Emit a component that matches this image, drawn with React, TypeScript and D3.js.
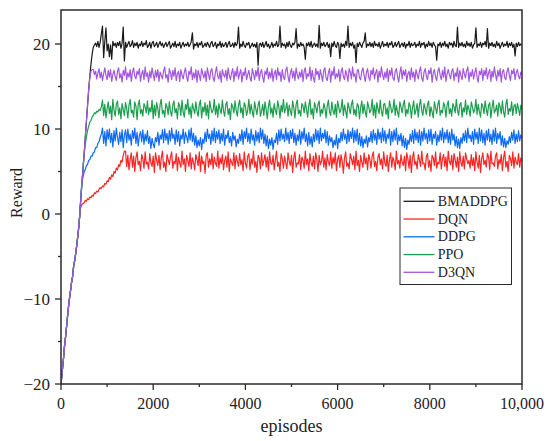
import * as d3 from "d3"

// episodes sampled every 25 (0..10000)
const episodes = d3.range(0, 10001, 25)

// shared warm-up ramp, episodes 0..400
const sharedRamp = [
  -20, -18.6, -17.3, -15.6, -14.4, -13.0, -11.6, -10.3, -9.3, -8.2, -7.4, -6.1, -5.4, -4.4, -3.3, -2.1, -0.6,
]

// values from episode 425 on
const bmaddpgRest = [
  1.4, 3.3, 5.1, 6.9, 8.9, 10.8, 12.7, 14.6, 16.2, 17.6, 18.8, 19.6, 19.9,
  20.1, 19.7, 20.3, 19.6, 20.2, 21.2, 22.1, 18.4, 20.3, 21.9, 19.2, 20.0, 18.5, 19.9, 18.2, 20.3, 19.8, 20.1, 19.6, 20.2,
  19.8, 20.3, 19.5, 20.1, 22.0, 18.0, 20.2, 19.6, 20.0, 20.3, 19.7, 19.9, 20.4, 19.6, 20.1, 19.8, 20.2, 19.5, 20.0, 19.8,
  20.3, 19.7, 20.1, 19.9, 20.4, 19.6, 19.8, 20.2, 19.5, 20.1, 20.3, 19.7, 19.9, 20.2, 19.6, 20.0, 20.3, 19.8, 20.1, 19.6,
  19.9, 20.2, 19.7, 20.0, 20.3, 19.5, 19.8, 20.1, 19.7, 20.3, 19.6, 20.0, 19.8, 20.2, 19.5, 19.9, 20.2, 19.7, 20.0, 19.8,
  20.2, 19.7, 19.9, 20.3, 21.3, 19.4, 20.0, 19.8, 20.2, 19.6, 20.1, 19.9, 20.3, 19.6, 19.8, 20.1, 19.7, 20.2, 19.9, 19.6,
  20.1, 20.3, 19.7, 19.9, 20.2, 19.5, 20.0, 19.8, 20.3, 19.6, 20.1, 19.7, 19.9, 20.2, 19.6, 20.0, 20.3, 19.7, 19.8, 20.1,
  19.6, 20.2, 19.8, 20.1, 22.0, 19.5, 20.0, 19.7, 20.3, 19.8, 19.6, 20.1, 19.9, 20.2, 19.5, 19.8, 20.1, 19.7, 20.0, 19.6,
  20.2, 17.5, 19.9, 20.1, 19.7, 20.2, 19.6, 19.9, 20.3, 19.7, 20.0, 19.5, 19.8, 20.2, 19.6, 20.0, 19.8, 20.3, 19.7, 19.9,
  22.1, 19.6, 20.1, 19.8, 20.0, 19.5, 20.2, 19.7, 20.3, 19.8, 19.6, 20.1, 19.9, 20.2, 21.8, 19.5, 20.0, 19.7, 20.2, 19.8,
  20.0, 19.6, 18.2, 20.1, 19.8, 20.2, 19.7, 20.3, 19.6, 19.9, 20.1, 19.7, 20.0, 19.6, 22.2, 19.5, 20.1, 19.8, 20.2, 19.7,
  19.9, 20.2, 19.6, 20.0, 18.5, 20.1, 19.7, 20.3, 19.8, 19.6, 20.2, 19.9, 18.3, 20.1, 19.7, 20.0, 19.6, 20.3, 19.8, 22.1,
  19.6, 20.1, 19.8, 20.2, 19.5, 19.9, 17.8, 20.1, 19.7, 20.2, 19.9, 19.6, 20.1, 20.3, 21.3, 19.6, 20.0, 19.8, 20.2, 19.7,
  20.1, 19.6, 20.3, 19.8, 20.0, 19.7, 20.2, 19.5, 19.9, 20.3, 19.7, 20.0, 19.8, 20.2, 19.6, 20.1, 19.9, 20.3, 19.6, 19.8,
  20.2, 19.7, 20.0, 20.3, 19.6, 19.9, 20.1, 19.7, 20.2, 19.5, 20.0, 19.8, 20.3, 19.6, 20.1, 19.8, 19.9, 20.2, 19.6, 20.0,
  19.8, 20.3, 19.6, 20.1, 19.9, 20.2, 19.5, 20.0, 19.7, 20.3, 19.8, 20.1, 19.6, 20.2, 19.9, 19.7, 18.1, 20.0, 19.8, 20.2,
  19.6, 20.1, 19.8, 20.3, 19.7, 20.0, 19.5, 20.2, 19.9, 20.1, 19.6, 20.3, 19.8, 19.7, 22.0, 19.6, 20.1, 19.8, 20.2, 19.7,
  20.0, 19.6, 20.3, 19.8, 20.1, 19.7, 20.2, 19.5, 19.9, 20.1, 21.9, 19.6, 20.0, 19.8, 20.2, 19.6, 20.1, 19.9, 20.3, 19.7,
  21.8, 19.5, 20.1, 19.8, 20.2, 19.7, 20.0, 19.6, 20.3, 19.8, 20.1, 19.5, 19.9, 20.2, 19.7, 20.0, 19.8, 20.3, 19.6, 20.1,
  19.8, 20.2, 19.6, 20.0, 18.6, 20.1, 19.7, 20.2, 19.8, 20.0, 19.9,
]

const dqnRest = [
  0.7, 1.1, 1.2, 1.3, 1.6, 1.5, 1.8, 1.7, 2.0, 1.9, 2.2, 2.1, 2.5, 2.4, 2.7, 2.6, 2.9, 3.1, 3.0, 3.3,
  3.2, 3.6, 3.5, 3.9, 3.8, 4.3, 4.1, 4.6, 4.4, 5.0, 4.8, 5.4, 5.2, 5.8, 5.6, 6.3, 6.1, 6.9, 7.4,
  7.4, 5.6, 6.9, 5.2, 6.4, 7.2, 5.5, 6.8, 5.0, 6.6, 7.3, 5.8, 6.2, 5.1, 7.0, 6.5, 5.4, 7.3, 5.9, 6.1,
  5.3, 7.1, 6.0, 5.6, 6.8, 4.9, 7.2, 6.3, 5.7, 6.9, 5.2, 6.6, 7.4, 5.5, 6.1, 5.0, 7.0, 6.4, 5.8, 6.7,
  7.3, 5.4, 6.2, 5.9, 7.1, 5.1, 6.7, 6.0, 5.5, 7.4, 5.8, 6.5, 5.0, 6.9, 6.3, 5.6, 7.2, 5.3, 6.6, 6.1,
  5.2, 7.0, 6.4, 5.7, 7.3, 5.0, 6.8, 5.9, 6.2, 4.8, 6.9, 7.2, 5.5, 6.5, 5.8, 7.1, 5.3, 6.7, 6.0, 5.6,
  7.4, 5.4, 6.6, 5.9, 7.0, 5.2, 6.3, 6.8, 5.5, 7.3, 5.0, 6.5, 6.1, 5.7, 7.2, 5.3, 6.9, 6.2, 5.6, 7.1,
  5.8, 6.4, 5.1, 7.3, 6.0, 5.4, 6.8, 7.1, 5.2, 6.5, 5.9, 7.4, 5.5, 6.2, 4.9, 6.9, 6.6, 5.3, 7.2, 5.7,
  6.3, 7.0, 5.5, 6.7, 5.1, 7.3, 6.0, 5.8, 6.9, 5.2, 6.4, 7.4, 5.6, 6.1, 5.0, 7.1, 6.5, 5.4, 6.8, 6.0,
  5.3, 7.2, 6.2, 5.7, 6.9, 4.9, 6.6, 7.3, 5.5, 6.0, 5.9, 7.0, 5.2, 6.7, 6.3, 5.4, 7.4, 5.8, 6.5, 5.1,
  7.1, 6.0, 5.6, 6.8, 5.3, 7.2, 6.4, 5.0, 6.9, 5.8, 6.2, 7.4, 5.5, 6.6, 5.2, 7.0, 6.1, 5.7, 7.3, 5.4,
  6.7, 5.9, 7.2, 5.1, 6.4, 6.9, 5.5, 7.0, 6.2, 4.8, 6.6, 7.3, 5.6, 6.0, 5.3, 7.1, 6.5, 5.8, 6.8, 5.2,
  7.4, 5.7, 6.3, 5.0, 6.9, 6.1, 5.5, 7.2, 5.9, 6.6, 5.2, 7.0, 6.4, 5.4, 6.8, 7.3, 5.6, 6.2, 5.1, 6.7,
  7.1, 5.8, 6.5, 5.3, 7.3, 6.0, 5.6, 6.9, 5.0, 6.4, 7.2, 5.5, 6.7, 6.2, 5.2, 7.4, 5.9, 6.3, 5.4, 7.0,
  6.1, 5.7, 6.8, 5.1, 7.2, 6.5, 5.4, 6.9, 4.9, 6.6, 7.3, 5.8, 6.2, 5.3, 7.0, 6.4, 5.6, 7.4, 5.9, 6.0,
  5.2, 6.8, 7.1, 5.5, 6.3, 5.0, 6.9, 6.6, 5.7, 7.3, 5.4, 6.1, 5.9, 7.2, 5.3, 6.5, 7.0, 5.6, 6.7, 5.1,
  7.4, 6.2, 5.8, 6.9, 5.2, 7.1, 6.4, 5.5, 6.7, 5.0, 7.3, 6.0, 5.6, 6.8, 5.3, 7.2, 6.5, 5.9, 6.3, 5.4,
  7.0, 5.7, 6.6, 5.1, 7.3, 6.1, 5.4, 6.9, 4.9, 6.5, 7.2, 5.8, 6.3, 5.5, 7.1, 6.7, 5.2, 7.4, 5.9, 6.0,
  5.6, 6.8, 7.2, 5.3, 6.4, 5.9, 7.0, 5.1, 6.6, 7.4, 5.5, 6.2, 5.0, 6.9, 6.5, 5.7, 7.3, 5.4, 6.7, 6.1,
  5.8, 7.1, 5.5, 6.6, 6.2,
]

const ddpgRest = [
  1.5, 3.6, 4.3, 4.9, 5.2, 5.7, 5.8, 6.3, 6.4, 6.8, 6.8, 7.2, 7.3, 7.8, 7.8, 8.3, 8.5, 9.0,
  9.4, 10.1, 8.3, 9.7, 8.0, 9.9, 8.8, 10.0, 8.4, 9.5, 7.9, 9.8, 8.6, 10.1, 9.0, 8.2, 9.6, 8.5, 9.9, 7.8,
  9.3, 9.9, 8.4, 10.0, 8.7, 9.4, 8.1, 9.8, 8.9, 10.1, 8.3, 9.6, 8.0, 9.2, 9.7, 8.5, 9.9, 8.2, 9.4, 8.6,
  9.8, 8.3, 9.1, 7.7, 8.9, 8.2, 7.8, 9.0, 8.5, 9.6, 8.1, 9.3, 8.8, 9.9, 8.4, 10.0, 8.7, 9.5, 8.2, 9.8,
  8.6, 10.1, 8.9, 9.4, 8.2, 9.9, 8.5, 9.7, 8.0, 9.3, 8.8, 10.0, 8.3, 9.6, 9.1, 8.4, 9.9, 8.7, 10.1, 8.5,
  9.5, 8.1, 9.2, 7.8, 8.7, 8.0, 9.0, 7.6, 8.8, 8.3, 9.6, 8.5, 10.0, 8.9, 9.4, 8.2, 9.8, 8.6, 10.1, 8.4,
  9.7, 8.8, 9.9, 8.3, 9.5, 8.6, 10.0, 8.1, 9.3, 8.9, 9.8, 8.4, 9.1, 8.0, 9.6, 8.7, 9.2, 7.9, 8.8, 8.3,
  9.4, 8.6, 9.9, 8.2, 9.7, 8.9, 10.1, 8.5, 9.5, 8.3, 10.0, 8.7, 9.3, 8.1, 9.8, 8.6, 9.6, 8.4, 10.1, 8.8,
  9.9, 8.3, 9.4, 8.0, 9.2, 7.7, 8.8, 8.1, 9.0, 7.6, 8.7, 8.4, 9.5, 8.2, 9.9, 8.6, 10.0, 8.8, 9.4, 8.5,
  10.1, 8.7, 9.6, 8.3, 9.8, 8.9, 10.0, 8.4, 9.5, 8.1, 9.3, 8.6, 9.9, 8.2, 9.7, 8.8, 10.1, 8.5, 9.4, 8.0,
  9.6, 8.2, 9.1, 7.9, 9.4, 8.5, 10.0, 8.7, 9.8, 8.3, 10.1, 8.6, 9.5, 8.9, 9.9, 8.4, 9.7, 8.1, 9.2, 8.5,
  9.0, 7.8, 8.7, 8.1, 9.3, 7.7, 8.9, 8.4, 9.6, 8.6, 10.0, 8.8, 9.4, 8.3, 9.9, 8.5, 9.7, 8.9, 10.1, 8.4,
  9.8, 8.6, 10.0, 8.2, 9.5, 8.0, 9.1, 7.8, 8.8, 8.3, 9.2, 7.9, 9.0, 8.5, 9.7, 8.4, 9.9, 8.7, 9.5, 8.2,
  10.0, 8.8, 9.6, 8.4, 10.1, 8.6, 9.8, 8.3, 9.4, 8.9, 10.0, 8.1, 9.7, 8.5, 9.9, 8.7, 10.1, 8.2, 9.3, 8.6,
  9.5, 8.0, 9.2, 7.8, 8.9, 7.6, 8.7, 8.2, 9.4, 8.5, 9.8, 8.3, 10.0, 8.7, 9.6, 8.4, 9.9, 8.1, 9.7, 8.6,
  10.1, 8.8, 9.5, 8.3, 9.9, 8.6, 10.0, 8.2, 9.4, 8.9, 9.7, 8.1, 9.3, 8.5, 9.8, 8.7, 10.1, 8.4, 9.6, 8.8,
  9.9, 8.4, 9.6, 8.2, 10.0, 8.7, 9.4, 8.0, 9.1, 7.8, 8.8, 7.7, 9.0, 8.3, 9.5, 8.6, 9.8, 8.4, 10.1, 8.9,
  9.3, 8.5, 9.7, 8.2, 10.0, 8.8, 9.6, 8.3, 10.1, 8.6, 9.9, 8.4, 9.5, 8.1, 9.8, 8.7, 10.0, 8.5, 9.4, 8.2,
  9.9, 8.6, 10.1, 8.3, 9.5, 8.8, 9.7, 8.1, 9.2, 7.9, 8.9, 7.8, 8.6, 8.2, 9.1, 8.4, 9.6, 8.7, 9.9, 8.3,
  9.4, 8.5, 9.8, 8.6, 9.3, 8.9,
]

const ppoRest = [
  1.4, 3.4, 5.3, 7.0, 8.1, 9.0, 9.8, 10.3, 10.8, 11.0, 11.4, 11.6, 11.9, 11.8, 12.1, 12.0, 12.3, 12.2,
  12.6, 13.4, 11.6, 12.9, 11.3, 12.4, 13.2, 11.8, 12.7, 11.1, 13.5, 12.2, 11.5, 12.9, 13.3, 11.7, 12.5, 11.2, 13.0, 12.3,
  11.6, 13.1, 12.4, 11.3, 12.8, 13.5, 11.9, 12.2, 11.4, 13.2, 12.7, 11.1, 12.9, 13.4, 11.8, 12.3, 11.5, 13.0, 12.6, 11.9,
  13.3, 11.7, 12.5, 12.0, 13.4, 11.2, 12.8, 11.6, 13.1, 12.4, 11.3, 12.9, 13.5, 11.8, 12.2, 11.4, 13.0, 12.6, 11.7, 13.2,
  12.1, 11.5, 12.8, 13.3, 11.9, 12.4, 11.2, 13.1, 12.7, 11.6, 13.4, 12.0, 11.4, 12.9, 12.3, 13.5, 11.7, 12.6, 11.3, 13.0,
  12.4, 11.8, 13.2, 12.1, 11.5, 12.9, 13.4, 11.3, 12.6, 12.0, 13.1, 11.6, 12.8, 11.2, 13.3, 12.5, 11.9, 12.2, 13.5, 11.7,
  12.7, 11.4, 13.0, 12.3, 11.8, 13.4, 12.1, 11.5, 12.9, 13.2, 11.7, 12.4, 11.1, 13.0, 12.6, 11.9, 13.3, 12.2, 11.5, 12.8,
  13.4, 11.9, 12.5, 11.3, 13.1, 12.7, 11.6, 12.2, 13.5, 11.8, 12.9, 12.0, 11.4, 13.2, 12.4, 11.7, 12.8, 13.3, 11.5, 12.1,
  12.9, 11.6, 13.2, 12.3, 11.2, 12.7, 13.4, 11.8, 12.5, 11.4, 13.0, 12.2, 11.7, 13.3, 12.6, 11.3, 12.8, 12.0, 13.5, 11.9,
  12.4, 13.1, 11.5, 12.8, 12.1, 11.6, 13.3, 12.5, 11.3, 12.9, 13.4, 11.8, 12.2, 11.5, 13.0, 12.7, 11.9, 13.2, 12.3, 11.4,
  12.8, 13.5, 11.7, 12.4, 11.2, 13.1, 12.6, 11.9, 12.9, 13.3, 11.5, 12.3, 11.8, 13.0, 12.5, 11.3, 12.7, 13.4, 12.0, 11.6,
  13.2, 12.2, 11.7, 12.9, 11.4, 13.3, 12.6, 11.9, 12.4, 13.5, 11.6, 12.8, 12.1, 11.3, 13.1, 12.5, 11.8, 12.9, 13.4, 11.7,
  12.3, 11.5, 13.0, 12.7, 11.2, 12.5, 13.3, 11.8, 12.9, 12.0, 11.4, 13.2, 12.6, 11.9, 12.3, 13.5, 11.6, 12.8, 11.3, 13.1,
  12.4, 11.8, 13.4, 12.1, 11.5, 12.9, 13.0, 11.7, 12.5, 11.2, 13.3, 12.7, 11.9, 12.3, 13.5, 11.6, 12.8, 12.0, 11.4, 13.2,
  12.6, 11.9, 12.9, 13.4, 11.5, 12.3, 11.8, 13.1, 12.7, 11.3, 12.5, 13.3, 11.7, 12.2, 13.0, 11.4, 12.8, 13.5, 12.1, 11.6,
  13.0, 12.4, 11.7, 12.9, 13.3, 11.5, 12.6, 12.0, 11.3, 13.2, 12.5, 11.8, 12.9, 13.4, 11.6, 12.2, 11.9, 13.1, 12.7, 11.4,
  12.8, 13.3, 11.8, 12.4, 11.5, 13.0, 12.6, 11.9, 13.5, 12.2, 11.6, 12.9, 13.1, 11.4, 12.5, 12.0, 13.4, 11.7, 12.8, 12.3,
  11.5, 13.2, 12.6, 11.9, 12.3, 13.5, 11.7, 12.9, 12.1, 11.4, 13.0, 12.7, 11.8, 13.3, 12.4, 11.6, 12.8, 13.1, 11.3, 12.5,
  13.4, 11.9, 12.2, 12.8, 11.5, 13.1, 12.6, 11.8, 13.3, 12.0, 11.4, 12.9, 13.5, 11.7, 12.4, 12.1, 13.2, 11.6, 12.7, 12.9,
  11.8, 13.0, 12.4, 11.6, 12.8, 12.3,
]

const d3qnRest = [
  1.4, 3.3, 5.1, 6.9, 8.9, 10.8, 12.7, 14.6, 16.0, 16.8, 17.0,
  17.0, 16.4, 16.8, 15.9, 16.6, 17.1, 16.0, 16.7, 15.7, 16.5, 17.2, 16.3, 15.8, 16.9, 16.1, 17.0, 15.6, 16.4, 16.9, 16.2,
  15.7, 16.8, 17.2, 16.0, 16.5, 15.5, 16.9, 16.3, 17.3, 15.8, 16.6, 16.1, 17.0, 15.6, 16.7, 17.2, 16.2, 15.9, 16.8, 16.4,
  17.1, 15.6, 16.5, 16.9, 15.8, 17.3, 16.2, 16.6, 15.5, 16.8, 16.0, 17.2, 16.4, 15.7, 16.9, 16.1, 17.0, 15.6, 16.7, 16.3,
  15.9, 16.8, 17.3, 16.0, 16.4, 15.5, 17.1, 16.6, 15.8, 16.9, 16.2, 17.2, 15.7, 16.5, 16.8, 15.6, 17.0, 16.3, 15.9, 16.7,
  17.2, 16.1, 15.6, 16.8, 16.4, 17.3, 15.8, 16.6, 16.0, 17.0, 15.5, 16.9, 16.3, 15.7, 17.1, 16.5, 16.0, 16.8, 15.6, 17.2,
  16.4, 15.8, 16.9, 17.1, 16.0, 15.6, 16.7, 17.3, 16.2, 15.9, 16.8, 15.5, 17.0, 16.4, 16.1, 16.9, 15.7, 17.2, 16.3, 15.8,
  16.6, 17.1, 15.6, 16.8, 16.2, 17.3, 15.9, 16.5, 17.0, 15.5, 16.7, 16.3, 17.2, 15.8, 16.4, 16.9, 16.0, 15.6, 17.1, 16.5,
  15.8, 16.9, 16.2, 17.3, 15.7, 16.6, 17.0, 16.1, 15.5, 16.8, 16.4, 17.2, 15.9, 16.7, 16.0, 17.1, 15.6, 16.5, 16.9, 15.8,
  17.2, 16.3, 16.7, 15.6, 17.0, 16.1, 15.8, 16.9, 17.3, 16.2, 15.5, 16.6, 17.1, 16.0, 16.8, 15.7, 17.2, 16.4, 15.9, 16.7,
  16.1, 17.0, 15.6, 16.8, 17.2, 15.9, 16.5, 16.2, 17.3, 15.7, 16.9, 16.0, 15.5, 17.1, 16.4, 16.8, 15.8, 17.0, 16.3, 15.6,
  16.9, 17.2, 16.0, 15.7, 16.6, 17.1, 15.5, 16.8, 16.3, 17.3, 15.9, 16.5, 16.1, 17.0, 15.6, 16.7, 17.2, 16.2, 15.8, 16.9,
  16.4, 15.6, 17.1, 16.7, 15.9, 17.3, 16.2, 16.5, 15.5, 16.9, 17.0, 16.0, 15.8, 16.8, 17.2, 16.3, 15.6, 16.6, 17.1, 16.1,
  15.7, 16.9, 16.4, 17.2, 15.9, 16.6, 17.0, 15.5, 16.8, 16.1, 17.3, 16.4, 15.8, 16.7, 16.0, 17.1, 15.6, 16.9, 16.3, 17.2,
  16.0, 15.7, 16.8, 17.1, 16.2, 15.5, 16.6, 17.3, 15.9, 16.9, 16.3, 17.0, 15.6, 16.5, 16.8, 15.8, 17.2, 16.1, 16.7, 15.6,
  17.0, 16.4, 15.9, 16.8, 17.3, 16.0, 15.6, 16.7, 17.1, 16.2, 15.8, 16.9, 16.5, 17.2, 15.5, 16.6, 17.0, 16.1, 15.7, 16.8,
  17.2, 16.3, 15.8, 16.9, 16.1, 17.3, 15.6, 16.5, 17.0, 16.4, 15.9, 16.8, 17.1, 15.7, 16.6, 16.2, 17.2, 15.5, 16.9, 16.3,
  15.8, 17.1, 16.5, 16.0, 16.9, 17.3, 15.6, 16.7, 16.2, 17.0, 15.9, 16.6, 17.2, 16.1, 15.5, 16.8, 16.4, 17.1, 15.7, 16.9,
  16.3, 17.2, 15.9, 16.6, 17.0, 15.6, 16.8, 16.1, 17.3, 16.4, 15.7, 16.9, 16.2, 17.1, 15.5, 16.7, 17.0, 16.0, 15.8, 16.8,
  17.2, 16.3, 15.7, 16.9, 16.5, 17.1, 15.8, 16.6, 17.0, 16.2, 15.9, 16.7, 16.4,
]

const seriesNames = ["BMADDPG", "DQN", "DDPG", "PPO", "D3QN"]
const seriesColors = ["#1a1a1a", "#ff2424", "#0f6af5", "#1c9e4e", "#a257dc"]
const seriesValues = [bmaddpgRest, dqnRest, ddpgRest, ppoRest, d3qnRest].map((rest) => sharedRamp.concat(rest))

const xMajorTicks = [0, 2000, 4000, 6000, 8000, 10000]
const xMinorTicks = [1000, 3000, 5000, 7000, 9000]
const yMajorTicks = [-20, -10, 0, 10, 20]
const yMinorTicks = [-15, -5, 5, 15]

const font = "'Liberation Serif', 'Times New Roman', serif"

export default function App() {
  const left = 61
  const right = 522
  const top = 10
  const bottom = 384

  const x = d3.scaleLinear().domain([0, 10000]).range([left, right])
  const y = d3.scaleLinear().domain([-20, 24]).range([bottom, top])

  const line = d3
    .line<number>()
    .x((_, i) => x(episodes[i]))
    .y((d) => y(d))

  const fmtX = (v: number) => (v === 10000 ? "10,000" : String(v))
  const fmtY = (v: number) => (v < 0 ? "\u2212" + Math.abs(v) : String(v))

  const legendX = 400
  const legendY = 188

  return (
    <div style={{ position: "absolute", left: 0, top: 0 }}>
      <svg width={550} height={441} style={{ display: "block", background: "#fff" }}>
        <defs>
          <clipPath id="plot-clip">
            <rect x={left} y={top} width={right - left} height={bottom - top} />
          </clipPath>
        </defs>

        {/* lines, D3QN on top */}
        <g clipPath="url(#plot-clip)">
          {seriesValues.map((vals, i) => (
            <path key={seriesNames[i]} d={line(vals) || ""} fill="none" stroke={seriesColors[i]} strokeWidth={1.2} strokeLinejoin="round" />
          ))}
        </g>

        {/* frame */}
        <rect x={left} y={top} width={right - left} height={bottom - top} fill="none" stroke="#2b2b2b" strokeWidth={1.5} />

        {/* x ticks */}
        {xMajorTicks.map((t) => (
          <g key={"xm" + t}>
            <line x1={x(t)} x2={x(t)} y1={bottom} y2={bottom + 6} stroke="#2b2b2b" strokeWidth={1.3} />
            <text x={x(t)} y={409} textAnchor="middle" fontFamily={font} fontSize={16} fill="#222">
              {fmtX(t)}
            </text>
          </g>
        ))}
        {xMinorTicks.map((t) => (
          <line key={"xn" + t} x1={x(t)} x2={x(t)} y1={bottom} y2={bottom + 3} stroke="#2b2b2b" strokeWidth={1.3} />
        ))}

        {/* y ticks */}
        {yMajorTicks.map((t) => (
          <g key={"ym" + t}>
            <line x1={left - 6} x2={left} y1={y(t)} y2={y(t)} stroke="#2b2b2b" strokeWidth={1.3} />
            <text x={50} y={y(t)} dy="0.33em" textAnchor="end" fontFamily={font} fontSize={17} fill="#222">
              {fmtY(t)}
            </text>
          </g>
        ))}
        {yMinorTicks.map((t) => (
          <line key={"yn" + t} x1={left - 3} x2={left} y1={y(t)} y2={y(t)} stroke="#2b2b2b" strokeWidth={1.3} />
        ))}

        {/* axis titles */}
        <text x={291.5} y={432} textAnchor="middle" fontFamily={font} fontSize={18} fill="#222">
          episodes
        </text>
        <text transform="translate(22,193) rotate(-90)" textAnchor="middle" fontFamily={font} fontSize={16} fill="#222">
          Reward
        </text>

        {/* legend */}
        <rect x={legendX} y={legendY} width={111.5} height={96.5} fill="#fff" stroke="#2b2b2b" strokeWidth={1} />
        {seriesNames.map((name, i) => {
          const ly = 201.3 + i * 17.75
          return (
            <g key={"lg" + name}>
              <line x1={403.5} x2={434.5} y1={ly} y2={ly} stroke={seriesColors[i]} strokeWidth={1.3} />
              <text x={437.8} y={ly + 4.6} fontFamily={font} fontSize={14} fill="#222">
                {name}
              </text>
            </g>
          )
        })}
      </svg>
    </div>
  )
}
